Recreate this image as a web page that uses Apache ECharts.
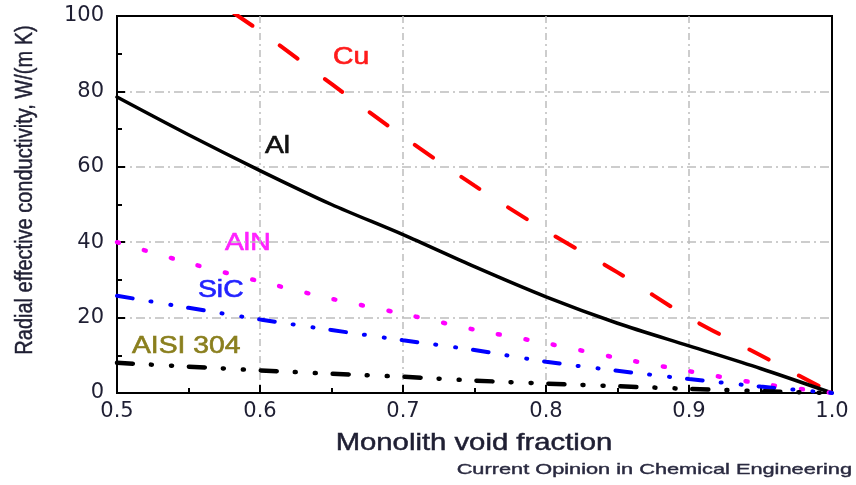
<!DOCTYPE html>
<html>
<head>
<meta charset="utf-8">
<script src="https://cdn.jsdelivr.net/npm/echarts@6/dist/echarts.min.js"></script>
<style>
  html, body { margin: 0; padding: 0; background: #fff; }
  #main { width: 856px; height: 485px; }
</style>
</head>
<body>
<div id="main"></div>
<script>
  // values
  const voidFraction = [0.5, 0.55, 0.6, 0.65, 0.7, 0.75, 0.8, 0.85, 0.9, 0.95, 1.0];
  const cu   = [123, 109, 96, 82, 68, 55, 43, 32, 20, 10, 0];
  const al   = [78.5, 68.5, 59, 50, 42, 33.5, 25.5, 18.5, 12.5, 6.5, 0];
  const aln  = [40, 34.5, 29.6, 25, 21, 16.8, 13.2, 9.3, 5.8, 2.5, 0];
  const sic  = [25.8, 22.6, 19.5, 16.7, 14, 11.4, 8.3, 5.9, 3.7, 1.7, 0];
  const aisi = [8, 7, 6, 5.1, 4.3, 3.3, 2.5, 1.8, 1.1, 0.5, 0];

  const font = 'Liberation Sans, Arial, sans-serif';
  const tickFont = 'DejaVu Sans, sans-serif';
  const textColor = '#1f1f33';
  const pairs = arr => voidFraction.map((x, i) => [x, arr[i]]);

  const chart = echarts.init(document.getElementById('main'));

  const mkLine = (name, arr, color, width, dash, offset) => ({
    name: name,
    type: 'line',
    data: pairs(arr),
    smooth: 0.3,
    symbol: 'none',
    clip: true,
    lineStyle: { color: color, width: width, type: dash, dashOffset: offset || 0, cap: 'round' }
  });

  // curve labels, stretched a bit wider like the original figure
  const label = (txt, x, y, color) => ({
    type: 'text', x: x, y: y, scaleX: 1.23,
    style: {
      text: txt, fill: color, font: '23px ' + font, verticalAlign: 'middle',
      stroke: color, lineWidth: 0.6
    }
  });

  let option = {
    animation: false,
    grid: {
      left: 117, right: 24, top: 16, bottom: 92,
      show: true, borderColor: '#000', borderWidth: 2
    },
    xAxis: {
      type: 'value',
      min: 0.5, max: 1.0, interval: 0.1,
      axisLine: { lineStyle: { color: '#000', width: 2 } },
      axisTick: { inside: true, length: 8, lineStyle: { color: '#000', width: 2 } },
      minorTick: { show: true, splitNumber: 2, length: 5, lineStyle: { color: '#000', width: 2 } },
      axisLabel: {
        color: textColor, fontSize: 21, fontFamily: tickFont, margin: 8,
        formatter: v => v.toFixed(1)
      },
      splitLine: {
        show: true, showMinLine: false, showMaxLine: false,
        lineStyle: { color: '#bdbdbd', width: 1.5, type: [7, 4, 2, 4] }
      }
    },
    yAxis: {
      type: 'value',
      min: 0, max: 100, interval: 20,
      axisLine: { show: true, lineStyle: { color: '#000', width: 2 } },
      axisTick: { show: true, inside: true, length: 8, lineStyle: { color: '#000', width: 2 } },
      minorTick: { show: true, splitNumber: 2, length: 5, lineStyle: { color: '#000', width: 2 } },
      axisLabel: { color: textColor, fontSize: 21, fontFamily: tickFont, margin: 13 },
      splitLine: {
        show: true, showMinLine: false, showMaxLine: false,
        lineStyle: { color: '#bdbdbd', width: 1.5, type: [9, 4, 2, 4] }
      }
    },
    series: [
      mkLine('Cu', cu, '#ff0000', 4, [22, 34], 24),
      mkLine('Al', al, '#000000', 3.5, 'solid'),
      mkLine('AlN', aln, '#ff00ff', 4.5, [2, 26]),
      mkLine('SiC', sic, '#0000ff', 4, [16, 18, 1, 19, 1, 17]),
      mkLine('AISI 304', aisi, '#000000', 4.5, [16, 18, 1, 19, 1, 17])
    ],
    graphic: [
      label('Cu', 333, 58, '#ff1a1a'),
      label('Al', 265, 147, '#111111'),
      label('AlN', 225, 244, '#ff22ff'),
      label('SiC', 198, 291, '#2222ff'),
      label('AISI 304', 132, 347, '#8a7f1e'),
      {
        type: 'text', x: 26, y: 190, rotation: Math.PI / 2, scaleY: 1.15,
        style: {
          text: 'Radial effective conductivity, W/(m K)', fill: textColor,
          font: '20px ' + font, align: 'center', verticalAlign: 'middle',
          stroke: textColor, lineWidth: 0.4
        }
      },
      {
        type: 'text', x: 474, y: 443, scaleX: 1.22,
        style: {
          text: 'Monolith void fraction', fill: textColor,
          font: '24px ' + font, align: 'center', verticalAlign: 'middle',
          stroke: textColor, lineWidth: 0.5
        }
      },
      {
        type: 'text', x: 852, y: 470, scaleX: 1.45,
        style: {
          text: 'Current Opinion in Chemical Engineering', fill: '#2a2a40',
          font: '15px ' + font, align: 'right', verticalAlign: 'middle',
          stroke: '#2a2a40', lineWidth: 0.4
        }
      }
    ]
  };

  chart.setOption(option);
</script>
</body>
</html>
